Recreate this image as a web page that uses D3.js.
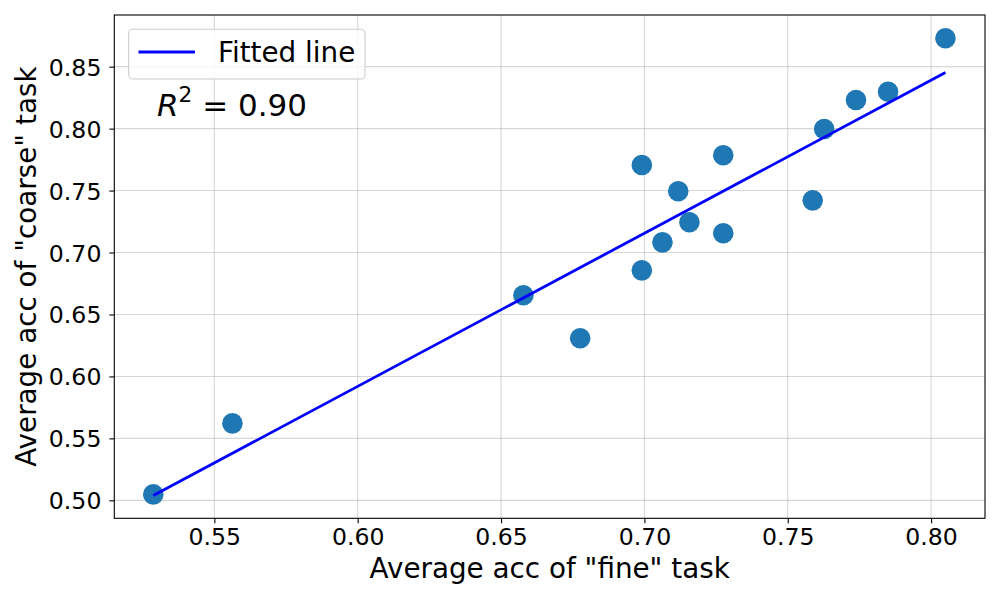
<!DOCTYPE html>
<html><head><meta charset="utf-8">
<script src="https://cdn.jsdelivr.net/npm/d3@7"></script>
<style>body{margin:0;background:#fff}svg{display:block}text{font-family:"DejaVu Sans",sans-serif}</style>
</head><body>
<script>
const fineAcc   = [0.5287,0.5563,0.6578,0.6776,0.6991,0.6991,0.7118,0.7063,0.7157,0.7275,0.7275,0.7587,0.7627,0.7738,0.7850,0.8050];
const coarseAcc = [0.5048,0.5621,0.6655,0.6308,0.7706,0.6856,0.7494,0.7082,0.7244,0.7785,0.7155,0.7421,0.7997,0.8231,0.8298,0.8729];
const xTicks = [0.55,0.60,0.65,0.70,0.75,0.80];
const yTicks = [0.50,0.55,0.60,0.65,0.70,0.75,0.80,0.85];
const legendLabel = "Fitted line";
const r2Label = "0.90";

const W=1000,H=600, L=114.3,R=985,T=15,B=518.3;
const svg=d3.select("body").append("svg").attr("width",W).attr("height",H);

const x=d3.scaleLinear().domain([0.5151,0.8188]).range([L,R]);
const y=d3.scaleLinear().domain([0.4855,0.8917]).range([B,T]);

// grid
const g=svg.append("g");
g.selectAll(".gx").data(xTicks).join("line").attr("x1",d=>x(d)).attr("x2",d=>x(d)).attr("y1",T).attr("y2",B)
 .attr("stroke","#b0b0b0").attr("stroke-opacity",0.5).attr("stroke-width",1.1);
g.selectAll(".gy").data(yTicks).join("line").attr("y1",d=>y(d)).attr("y2",d=>y(d)).attr("x1",L).attr("x2",R)
 .attr("stroke","#b0b0b0").attr("stroke-opacity",0.5).attr("stroke-width",1.1);

// regression
const n=fineAcc.length, mx=d3.mean(fineAcc), my=d3.mean(coarseAcc);
let sxy=0,sxx=0; for(let i=0;i<n;i++){sxy+=(fineAcc[i]-mx)*(coarseAcc[i]-my);sxx+=(fineAcc[i]-mx)**2;}
const slope=sxy/sxx, icpt=my-slope*mx;
const ext=d3.extent(fineAcc);
const line=d3.line().x(d=>x(d)).y(d=>y(slope*d+icpt));

// points
svg.append("g").selectAll("circle").data(fineAcc).join("circle")
 .attr("cx",d=>x(d)).attr("cy",(d,i)=>y(coarseAcc[i])).attr("r",10.3).attr("fill","#1f77b4");

svg.append("path").datum(ext).attr("d",line).attr("fill","none").attr("stroke","#0000ff").attr("stroke-width",2.78);

// axes
const xa=svg.append("g").attr("transform",`translate(0,${B})`).call(d3.axisBottom(x).tickValues(xTicks).tickFormat(d3.format(".2f")).tickSize(4.9).tickPadding(5));
const ya=svg.append("g").attr("transform",`translate(${L},0)`).call(d3.axisLeft(y).tickValues(yTicks).tickFormat(d3.format(".2f")).tickSize(4.9).tickPadding(8));
[xa,ya].forEach(a=>{a.select(".domain").remove();a.selectAll("line").attr("stroke","#000").attr("stroke-width",1.1);
  a.selectAll("text").attr("font-size",23.6).attr("fill","#000").attr("font-family","DejaVu Sans");});
xa.selectAll("text").attr("y",27).attr("dy",0);
ya.selectAll("text").attr("dy","0.36em");

svg.append("rect").attr("x",L).attr("y",T).attr("width",R-L).attr("height",B-T).attr("fill","none").attr("stroke","#000").attr("stroke-width",1.1);

svg.append("text").attr("x",(L+R)/2).attr("y",578).attr("text-anchor","middle").attr("font-size",27.8).text('Average acc of "fine" task');
svg.append("text").attr("transform",`translate(36,${(T+B)/2}) rotate(-90)`).attr("text-anchor","middle").attr("font-size",27.8).text('Average acc of "coarse" task');

// legend
const lg=svg.append("g");
lg.append("rect").attr("x",128.7).attr("y",29.3).attr("width",236.3).attr("height",49.7).attr("rx",4)
 .attr("fill","#fff").attr("fill-opacity",0.8).attr("stroke","#cccccc").attr("stroke-width",1.1);
lg.append("line").attr("x1",138.5).attr("x2",195).attr("y1",52).attr("y2",52).attr("stroke","#0000ff").attr("stroke-width",2.78);
lg.append("text").attr("x",218).attr("y",62).attr("font-size",27.8).text(legendLabel);

// R^2
const rt=svg.append("text").attr("x",157).attr("y",116).attr("font-size",31);
rt.append("tspan").attr("font-style","italic").text("R");
rt.append("tspan").attr("font-size",21.7).attr("dy",-14).text("2");
rt.append("tspan").attr("dy",14).text(" = "+r2Label);
</script>
</body></html>
